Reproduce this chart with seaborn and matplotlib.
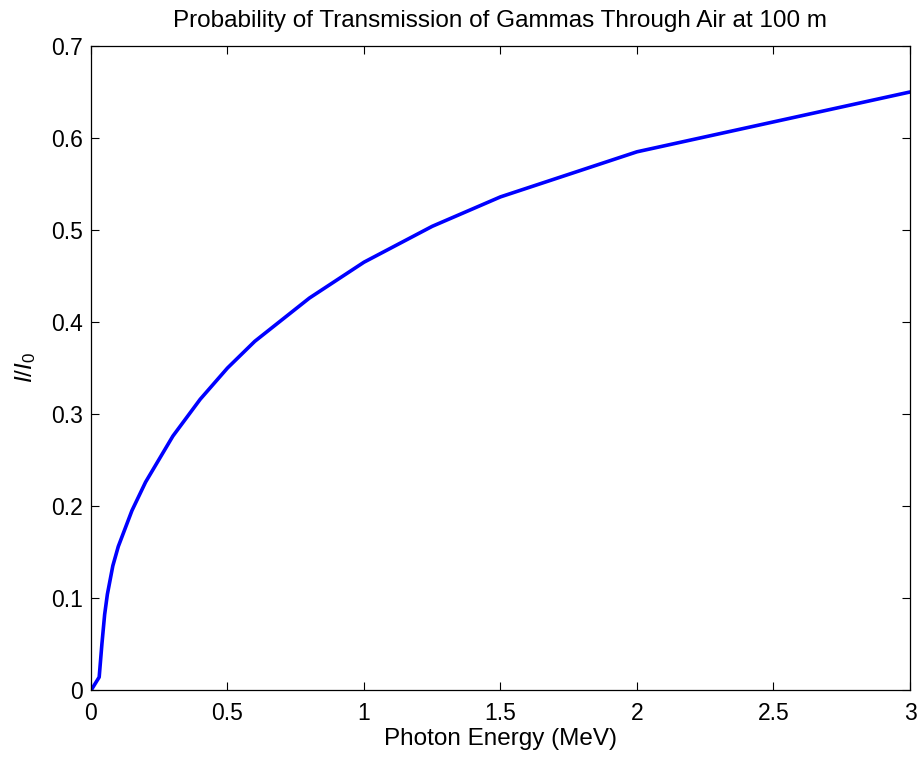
import numpy as np
import pandas as pd
import matplotlib
matplotlib.use("Agg")
import matplotlib.pyplot as plt
import seaborn as sns

# Photon energy (MeV) and transmission I/I0 through 100 m of air
energy = [0.001, 0.03, 0.04, 0.05, 0.06, 0.08, 0.10, 0.15, 0.20,
          0.30, 0.40, 0.50, 0.60, 0.80, 1.00, 1.25, 1.50, 2.00, 3.00]
transmission = [0.0, 0.014, 0.050, 0.082, 0.104, 0.135, 0.156,
                0.195, 0.226, 0.276, 0.316, 0.350, 0.379, 0.426, 0.465,
                0.504, 0.536, 0.585, 0.650]
x_ticks = [0, 0.5, 1, 1.5, 2, 2.5, 3]
x_tick_labels = ["0", "0.5", "1", "1.5", "2", "2.5", "3"]
y_ticks = [0, 0.1, 0.2, 0.3, 0.4, 0.5, 0.6, 0.7]
y_tick_labels = ["0", "0.1", "0.2", "0.3", "0.4", "0.5", "0.6", "0.7"]

df = pd.DataFrame({"Energy": energy, "T": transmission})

sns.set_style("white")
plt.rcParams["font.family"] = ["Liberation Sans", "DejaVu Sans"]
plt.rcParams["mathtext.fontset"] = "custom"
plt.rcParams["mathtext.it"] = "Liberation Sans:italic"
plt.rcParams["mathtext.rm"] = "Liberation Sans"
plt.rcParams["text.color"] = "black"
plt.rcParams["axes.labelcolor"] = "black"

fig = plt.figure(figsize=(9.2, 7.59), dpi=100)
ax = fig.add_axes([0.0989, 0.0909, 0.8902, 0.8485])

sns.lineplot(data=df, x="Energy", y="T", ax=ax, color="#0000ff", linewidth=2.6)

ax.set_xlim(0, 3)
ax.set_ylim(0, 0.7)
ax.set_xticks(x_ticks)
ax.set_xticklabels(x_tick_labels)
ax.set_yticks(y_ticks)
ax.set_yticklabels(y_tick_labels)
ax.tick_params(direction="in", length=6, width=0.8, labelsize=16.5,
               top=True, right=True, bottom=True, left=True, colors="black")
ax.tick_params(axis="x", pad=8.5)
ax.tick_params(axis="y", pad=6)
for s in ax.spines.values():
    s.set_visible(True)
    s.set_color("black")
    s.set_linewidth(0.9)

ax.set_xlabel("Photon Energy (MeV)", fontsize=17.5, labelpad=2)
ax.set_ylabel(r"$\mathit{I/I_0}$", fontsize=17.5, labelpad=9)
ax.set_title("Probability of Transmission of Gammas Through Air at 100 m",
             fontsize=17.5, pad=14)

fig.savefig("out.png", dpi=100)
